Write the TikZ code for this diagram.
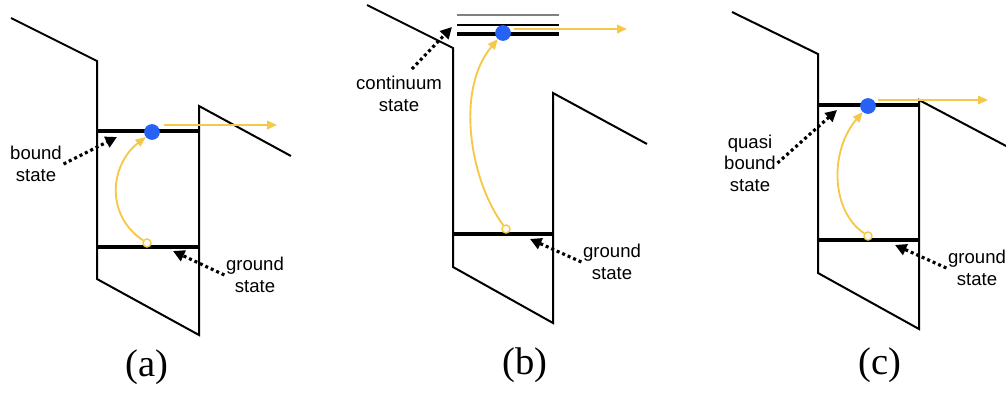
\documentclass[tikz,border=0pt]{standalone}
\usepackage{fontspec}
\setmainfont{Liberation Serif}
\setsansfont{Liberation Sans}
\usepackage{xcolor}
\usetikzlibrary{arrows.meta,positioning}
\definecolor{hopyellow}{RGB}{245,200,72}
\definecolor{dotblue}{RGB}{38,98,245}

\begin{document}
\begin{tikzpicture}[x=0.7pt, y=-0.7pt, >=Stealth,
    band/.style={black, line width=1.4pt, line join=miter},
    level/.style={black, line width=2.2pt},
    dot/.style={circle, fill=dotblue, inner sep=0pt, minimum size=11pt},
    hole/.style={circle, draw=hopyellow, fill=white, line width=1pt, inner sep=0pt, minimum size=5.6pt},
    hop/.style={hopyellow, line width=1.3pt, -{Triangle[length=7pt,width=6pt]}},
    pointer/.style={black, line width=2.2pt, dash pattern=on 2.1pt off 2.1pt, -{Triangle[length=8pt,width=8pt]}},
    lbl/.style={font=\sffamily\fontsize{13}{15}\selectfont, align=center, inner sep=1pt},
    tag/.style={font=\fontsize{27}{30}\selectfont}]
  \useasboundingbox (0,0) rectangle (1006,394);

  % (a)
  \draw[band] (11,18) -- (97,61) -- (97,279) -- (199,335) -- (199,106) -- (291,156);
  \draw[level] (97,131) -- (199,131);
  \draw[level] (97,247) -- (199,247);
  \node[dot]  (ea) at (152,132) {};
  \node[hole] (ha) at (147,243) {};
  \coordinate (ta) at (277,125);
  \draw[hop] (ha) .. controls (105,215) and (110,165) .. (ea);
  \draw[hop] ([xshift=3pt]ea.east |- ta) -- (ta);
  \node[lbl] (bsa) at (36,164) {bound\\state};
  \node[lbl] (gsa) at (255,275) {ground\\state};
  \coordinate (pba) at (117,137);
  \coordinate (pga) at (173,251);
  \draw[pointer] (bsa.east) -- (pba);
  \draw[pointer] (gsa.west) -- (pga);
  \node[tag] (capa) at (147,367) {(a)};

  % (b)
  \draw[band] (367,5) -- (453,48) -- (453,267) -- (553,323) -- (553,93) -- (647,144);
  \draw[gray, line width=1pt] (457,15) -- (559,15);
  \draw[black, line width=1.6pt] (457,25) -- (559,25);
  \draw[level] (457,34) -- (559,34);
  \draw[level] (453,234) -- (553,234);
  \node[dot]  (eb) at (503,33) {};
  \node[hole] (hb) at (506,229) {};
  \coordinate (tb) at (627,29);
  \draw[hop] (hb) .. controls (470,180) and (455,90) .. (eb);
  \draw[hop] ([xshift=2pt]eb.east |- tb) -- (tb);
  \node[lbl] (csb) at (399,94) {continuum\\state};
  \node[lbl] (gsb) at (612,262) {ground\\state};
  \coordinate (pcb) at (452,27);
  \coordinate (pgb) at (530,239);
  \draw[pointer] ([xshift=9pt,yshift=4pt]csb.north) -- (pcb);
  \draw[pointer] (gsb.west) -- (pgb);
  \node[tag] (capb) at (525,365) {(b)};

  % (c)
  \draw[band] (732,12) -- (818,54) -- (818,273) -- (919,329) -- (919,100) -- (1008,147);
  \draw[level] (818,105) -- (919,105);
  \draw[level] (818,240) -- (919,240);
  \node[dot]  (ec) at (868,106) {};
  \node[hole] (hc) at (868,236) {};
  \coordinate (tc) at (988,100);
  \draw[hop] (hc) .. controls (830,210) and (830,150) .. (ec);
  \draw[hop] ([xshift=1pt]ec.east |- tc) -- (tc);
  \node[lbl] (qsc) at (750,163) {quasi\\bound\\state};
  \node[lbl] (gsc) at (977,268) {ground\\state};
  \coordinate (pqc) at (837,110);
  \coordinate (pgc) at (895,245);
  \draw[pointer] (qsc.east) -- (pqc);
  \draw[pointer] (gsc.west) -- (pgc);
  \node[tag] (capc) at (880,365) {(c)};
\end{tikzpicture}
\end{document}
